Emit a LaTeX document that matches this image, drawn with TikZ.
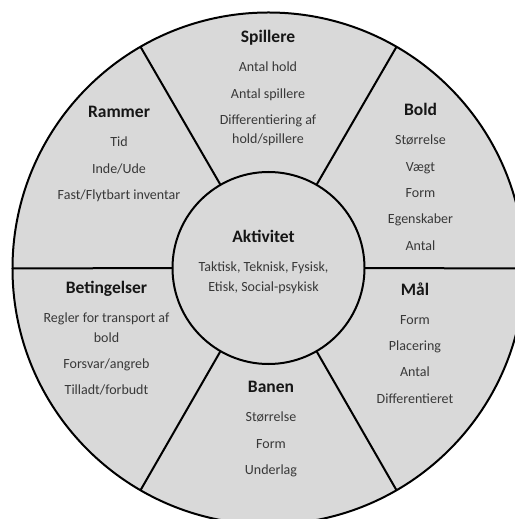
\documentclass[tikz,border=0pt]{standalone}
\usepackage{fontspec}
\setmainfont{Carlito}
\usepackage{xcolor}
\definecolor{sectorgray}{HTML}{D9D9D9}
\definecolor{headtext}{HTML}{161616}
\definecolor{bodytext}{HTML}{383838}
\newcommand{\nxt}{\\[6.8bp]}
\usetikzlibrary{positioning}

\begin{document}
\begin{tikzpicture}[x=1bp,y=-1bp,every node/.style={inner sep=0pt,outer sep=0pt},
  head/.style={font=\fontsize{17.5bp}{20bp}\selectfont\bfseries,text=headtext,text height=11.3bp,text depth=0pt},
  items/.style={font=\fontsize{14bp}{19.5bp}\selectfont,text=bodytext,align=center}]
\useasboundingbox (0,0) rectangle (515,519);
\fill[white] (0,0) rectangle (515,519);
\begin{scope}
\clip (0,0) rectangle (515,519);
\node[circle,draw,line width=2bp,fill=sectorgray,minimum size=512bp] (rim) at (268.5,268.5) {};
\node[circle,draw,line width=2bp,minimum size=192bp] (hub) at (268.5,268) {};
\foreach \a in {0,60,...,300}
  \draw[line width=2bp] (hub.\a) -- (rim.\a);%
\end{scope}
% sectors
\node[head] (spillere) at (268,37) {Spillere};
\node[items,below=19.5bp of spillere] (spillereTxt) {Antal hold\nxt Antal spillere\nxt Differentiering af\\hold/spillere};
\node[head] (rammer) at (119,112) {Rammer};
\node[items,below=19.5bp of rammer] (rammerTxt) {Tid\nxt Inde/Ude\nxt Fast/Flytbart inventar};
\node[head] (bold) at (420.5,110) {Bold};
\node[items,below=19.5bp of bold] (boldTxt) {Størrelse\nxt Vægt\nxt Form\nxt Egenskaber\nxt Antal};
\node[head] (betingelser) at (106.5,288) {Betingelser};
\node[items,below=19.5bp of betingelser] (betingelserTxt) {Regler for transport af\\bold\nxt Forsvar/angreb\nxt Tilladt/forbudt};
\node[head] (maal) at (415,290) {Mål};
\node[items,below=19.5bp of maal] (maalTxt) {Form\nxt Placering\nxt Antal\nxt Differentieret};
\node[head] (banen) at (271,387) {Banen};
\node[items,below=19.5bp of banen] (banenTxt) {Størrelse\nxt Form\nxt Underlag};
% centre
\node[head] (aktivitet) at (263.5,237) {Aktivitet};
\node[items,below=19.5bp of aktivitet] (aktivitetTxt) {Taktisk, Teknisk, Fysisk,\\Etisk, Social-psykisk};
\end{tikzpicture}
\end{document}
